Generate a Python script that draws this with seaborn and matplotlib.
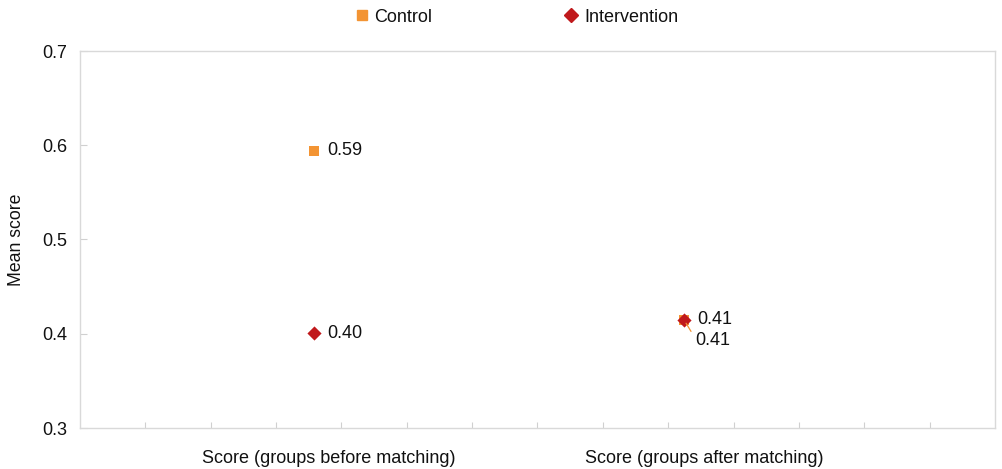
import matplotlib
matplotlib.use("Agg")
import matplotlib.pyplot as plt
from matplotlib.lines import Line2D
import seaborn as sns
import pandas as pd

# Data
categories = ["Score (groups before matching)", "Score (groups after matching)"]
control_scores = [0.594, 0.4149]
intervention_scores = [0.4005, 0.4149]
groups = ["Control", "Intervention"]

# Layout: category positions on a 0-14 horizontal scale
marker_pos = [3.58, 9.24]
label_pos = [3.8, 9.55]

colors = {"Control": "#F39433", "Intervention": "#C0191C"}
markers = {"Control": "s", "Intervention": "D"}
sizes = {"Control": 60, "Intervention": 52}
FS = 13

sns.set_theme(style="white")
plt.rcParams["font.family"] = ["Liberation Sans", "DejaVu Sans"]
plt.rcParams["text.color"] = "#111111"

df = pd.DataFrame({
    "pos": marker_pos * 2,
    "score": control_scores + intervention_scores,
    "group": [groups[0]] * 2 + [groups[1]] * 2,
})

fig = plt.figure(figsize=(10.03, 4.69), dpi=100)
ax = fig.add_axes([80 / 1003, 1 - 428 / 469, 915 / 1003, 377 / 469])

for g in groups:
    sub = df[df["group"] == g]
    sns.scatterplot(data=sub, x="pos", y="score", ax=ax, marker=markers[g],
                    color=colors[g], s=sizes[g], linewidth=0, legend=False,
                    zorder=3 if g == "Intervention" else 2)

# Value labels
for x, v in zip(marker_pos[:1], control_scores[:1]):
    ax.annotate(f"{v:.2f}", (x, v), xytext=(9.5, 0), textcoords="offset points",
                va="center", ha="left", fontsize=FS)
for x, v in zip(marker_pos, intervention_scores):
    ax.annotate(f"{v:.2f}", (x, v), xytext=(9.5, 0), textcoords="offset points",
                va="center", ha="left", fontsize=FS)
# Overlapping control label after matching, with a leader line
ax.annotate(f"{control_scores[1]:.2f}", (marker_pos[1], control_scores[1]),
            xytext=(8, -15), textcoords="offset points", va="center", ha="left",
            fontsize=FS,
            arrowprops=dict(arrowstyle="-", color=colors["Control"], lw=0.9,
                            relpos=(0.0, 0.65), shrinkA=1, shrinkB=3))

ax.set_xlim(0, 14)
ax.set_ylim(0.3, 0.7)
ax.set_yticks([0.3, 0.4, 0.5, 0.6, 0.7])
ax.set_yticklabels(["0.3", "0.4", "0.5", "0.6", "0.7"])
ax.set_xticks(label_pos)
ax.set_xticklabels(categories)
ax.set_xticks(range(1, 14), minor=True)
ax.tick_params(axis="x", which="major", length=0, pad=16, labelsize=FS,
               labelcolor="#111111")
ax.tick_params(axis="x", which="minor", direction="in", length=4,
               color="#d0d0d0", width=0.8, bottom=True)
ax.tick_params(axis="y", direction="in", length=5, color="#d0d0d0",
               width=0.8, pad=9, labelsize=FS, left=True, labelcolor="#111111")
ax.set_xlabel("")
ax.set_ylabel("Mean score", fontsize=12.7, color="#111111")
ax.yaxis.set_label_coords(-55 / 915, 0.5)

for sp in ax.spines.values():
    sp.set_visible(True)
    sp.set_color("#d9d9d9")
    sp.set_linewidth(1.0)

handles = [Line2D([], [], marker=markers[g], color=colors[g], linestyle="none",
                  markersize=(7.6 if g == "Control" else 7.0), label=g)
           for g in groups]
fig.legend(handles=handles, loc="center", bbox_to_anchor=(0.513, 1 - 17 / 469),
           ncol=2, frameon=False, fontsize=FS, handletextpad=0.1,
           columnspacing=7.1, handlelength=1.2)

fig.savefig("out.png", dpi=100, facecolor="white")
